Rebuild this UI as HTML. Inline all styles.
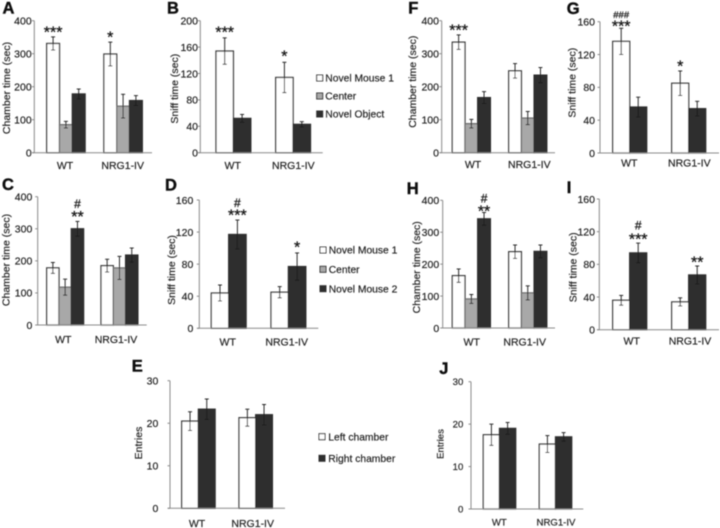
<!DOCTYPE html>
<html>
<head>
<meta charset="utf-8">
<title>Chamber and sniff time panels</title>
<style>
html,body{margin:0;padding:0;background:#fff;width:720px;height:528px;overflow:hidden}
svg{display:block;font-family:"Liberation Sans",Arial,sans-serif}
text{stroke:#222;stroke-width:.18px}
text.letter{stroke:#111;stroke-width:.4px}
text.mark{stroke:#1a1a1a;stroke-width:.3px}
</style>
</head>
<body>
<svg id="figure" xmlns="http://www.w3.org/2000/svg" width="720" height="528" viewBox="0 0 720 528"></svg>
<script>
const categories = ['WT', 'NRG1-IV'];
const threeSeriesA = ['Novel Mouse 1', 'Center', 'Novel Object'];
const threeSeriesC = ['Novel Mouse 1', 'Center', 'Novel Mouse 2'];
const twoSeriesE = ['Left chamber', 'Right chamber'];

const aMeans = [[331, 85, 178], [299, 141, 158]];
const aErrors = [[20, 10, 15], [36, 36, 15]];
const aTicks = [0, 100, 200, 300, 400];

const bMeans = [[154, 52], [114, 43]];
const bErrors = [[20, 6], [23, 4]];
const bTicks = [0, 40, 80, 120, 160, 200];

const cMeans = [[178, 118, 300], [185, 178, 218]];
const cErrors = [[17, 25, 23], [20, 36, 22]];
const cTicks = [0, 100, 200, 300, 400];

const dMeans = [[44, 117], [45, 77]];
const dErrors = [[10, 18], [7, 17]];
const dTicks = [0, 40, 80, 120, 160];

const eMeans = [[20.5, 23.3], [21.3, 22]];
const eErrors = [[2.2, 2.4], [2, 2.4]];
const eTicks = [0, 10, 20, 30];

const fMeans = [[335, 88, 167], [248, 105, 235]];
const fErrors = [[22, 13, 18], [22, 20, 23]];
const fTicks = [0, 100, 200, 300, 400];

const gMeans = [[136, 56], [85, 54]];
const gErrors = [[16, 12], [15, 9]];
const gTicks = [0, 40, 80, 120, 160];

const hMeans = [[164, 91, 342], [239, 110, 240]];
const hErrors = [[21, 14, 20], [21, 22, 20]];
const hTicks = [0, 100, 200, 300, 400];

const iMeans = [[36, 94], [34, 67]];
const iErrors = [[6, 12], [5, 11]];
const iTicks = [0, 40, 80, 120, 160];

const jMeans = [[17.5, 19], [15.3, 17]];
const jErrors = [[2.5, 1.4], [2, 1]];
const jTicks = [0, 10, 20, 30];

const panels = [
  {id:'a', means:aMeans, errors:aErrors, ticks:aTicks, title:'Chamber time (sec)', ax:34.3, xEnd:152, top:20.7, bot:152.7, starts:[46.7,103.9], bw:12.8,
   labelX:2.5, labelY:13.5, tickX:31.7, titleX:6, titleY:88, catX:[65,122.7], catY:169, annots:[[0,0,'***',8],[1,0,'*',8]]},
  {id:'b', means:bMeans, errors:bErrors, ticks:bTicks, title:'Sniff time (sec)', ax:200.3, xEnd:322.7, top:20.7, bot:152.7, starts:[216,275.7], bw:17.4,
   labelX:167, labelY:13.5, tickX:198, titleX:174.3, titleY:88.7, catX:[232.7,293.3], catY:169, annots:[[0,0,'***',9],[1,0,'*',9]]},
  {id:'c', means:cMeans, errors:cErrors, ticks:cTicks, title:'Chamber time (sec)', ax:37.7, xEnd:146.7, top:196.7, bot:325, starts:[46.7,101], bw:12.3,
   labelX:2, labelY:190, tickX:32.3, titleX:5.5, titleY:260, catX:[63.3,116], catY:343, annots:[[0,2,'**',8,'#',9.5]]},
  {id:'d', means:dMeans, errors:dErrors, ticks:dTicks, title:'Sniff time (sec)', ax:199.3, xEnd:318.3, top:200, bot:328.3, starts:[211.3,271], bw:17.4,
   labelX:165, labelY:190.5, tickX:193.3, titleX:171, titleY:270, catX:[227.7,286.7], catY:345.7, annots:[[0,1,'***',8,'#',9],[1,1,'*',9]]},
  {id:'e', means:eMeans, errors:eErrors, ticks:eTicks, title:'Entries', ax:170, xEnd:285, top:380.7, bot:508.3, starts:[181.7,239], bw:16.7,
   labelX:131.7, labelY:371.7, tickX:158.3, titleX:138.3, titleY:443, catX:[197,252.7], catY:527, annots:[]},
  {id:'f', means:fMeans, errors:fErrors, ticks:fTicks, title:'Chamber time (sec)', ax:441.7, xEnd:555, top:20.7, bot:152.7, starts:[452.3,508.7], bw:12.7,
   labelX:408.3, labelY:13.5, tickX:439, titleX:412.3, titleY:81.7, catX:[473,529.3], catY:168, annots:[[0,0,'***',7.7]]},
  {id:'g', means:gMeans, errors:gErrors, ticks:gTicks, title:'Sniff time (sec)', ax:600, xEnd:719, top:21.7, bot:153, starts:[612.7,671.7], bw:17,
   labelX:566.7, labelY:14, tickX:595, titleX:571.7, titleY:82.7, catX:[629.3,689.3], catY:166.7, annots:[[0,0,'***',5,'###',9.3],[1,0,'*',8]]},
  {id:'h', means:hMeans, errors:hErrors, ticks:hTicks, title:'Chamber time (sec)', ax:442.7, xEnd:555, top:200.3, bot:328, starts:[452.3,508.7], bw:12.7,
   labelX:406.7, labelY:194, tickX:439.2, titleX:416.2, titleY:267.3, catX:[471.7,524.7], catY:345.7, annots:[[0,2,'**',4.3,'#',10]]},
  {id:'i', means:iMeans, errors:iErrors, ticks:iTicks, title:'Sniff time (sec)', ax:599.3, xEnd:719, top:199, bot:329.7, starts:[612.7,671.7], bw:17,
   labelX:566.7, labelY:193, tickX:595, titleX:572.7, titleY:267.3, catX:[631.7,690], catY:344.7, annots:[[0,1,'***',7,'#',11],[1,1,'**',6.7]]},
  {id:'j', means:jMeans, errors:jErrors, ticks:jTicks, title:'Entries', ax:471, xEnd:583.3, top:381.7, bot:509, starts:[483.3,539.3], bw:16.2, small:true,
   labelX:439.3, labelY:374, tickX:463.3, titleX:440, titleY:444, catX:[499.3,556], catY:525.5, annots:[]}
];

const legends = [
  {id:'top', names:threeSeriesA, swatchX:316.7, textX:325.3, rows:[78,96,114], fills:['#fff','#a8a8a8','#2e2e2e']},
  {id:'middle', names:threeSeriesC, swatchX:320, textX:328.7, rows:[250,269.3,288.7], fills:['#fff','#a8a8a8','#2e2e2e']},
  {id:'bottom', names:twoSeriesE, swatchX:319, textX:328.3, rows:[436.7,458.3], fills:['#fff','#2e2e2e']}
];

const NS = 'http://www.w3.org/2000/svg';
const root = document.getElementById('figure');
const content = document.createElementNS(NS, 'g');
content.setAttribute('filter', 'url(#soften)');


const defs = document.createElementNS(NS, 'defs');
defs.innerHTML = '<filter id="soften" x="0" y="0" width="720" height="528" filterUnits="userSpaceOnUse" primitiveUnits="userSpaceOnUse"><feGaussianBlur stdDeviation="0.42"/></filter>';
root.appendChild(defs);
root.appendChild(content);

function make(tag, attrs, parent, txt) {
  const el = document.createElementNS(NS, tag);
  for (const k in attrs) el.setAttribute(k, attrs[k]);
  if (txt !== undefined) el.textContent = txt;
  parent.appendChild(el);
  return el;
}

function barFill(nSeries, s) {
  if (nSeries === 3) return ['#fff', '#a8a8a8', '#2e2e2e'][s];
  return ['#fff', '#2e2e2e'][s];
}
function barStroke(nSeries, s) {
  if (nSeries === 3) return ['#3c3c3c', '#707070', '#2e2e2e'][s];
  return ['#3c3c3c', '#2e2e2e'][s];
}

panels.forEach(function (p) {
  const max = p.ticks[p.ticks.length - 1];
  const yScale = function (v) { return p.bot - v / max * (p.bot - p.top); };
  const barLeft = function (g, s) { return p.starts[g] + s * p.bw; };
  const fs = p.small ? 9.6 : 10.5;

  const g = make('g', {}, content);
  
  

  const letter = make('text', {x:p.labelX, y:p.labelY, 'font-size':16.5, 'font-weight':'bold', fill:'#111', class:'letter'}, g, p.id.toUpperCase());
  
  

  p.means.forEach(function (row, gi) {
    row.forEach(function (v, si) {
      const x = barLeft(gi, si);
      const bar = make('rect', {x:x, y:yScale(v), width:p.bw, height:p.bot - yScale(v), fill:barFill(row.length, si), stroke:barStroke(row.length, si), 'stroke-width':1.3}, g);
      
      
    });
  });

  p.means.forEach(function (row, gi) {
    row.forEach(function (v, si) {
      const cx = barLeft(gi, si) + p.bw / 2;
      const e = p.errors[gi][si];
      const eg = make('g', {stroke:'#1a1a1a', 'stroke-width':0.9}, g);
      
      
      make('line', {x1:cx, x2:cx, y1:yScale(v + e), y2:yScale(v - e)}, eg);
      make('line', {x1:cx - 2, x2:cx + 2, y1:yScale(v + e), y2:yScale(v + e)}, eg);
      make('line', {x1:cx - 2, x2:cx + 2, y1:yScale(v - e), y2:yScale(v - e)}, eg);
    });
  });

  const yAxis = make('line', {x1:p.ax, x2:p.ax, y1:p.top, y2:p.bot, stroke:'#8a8a8a', 'stroke-width':1}, g);
  
  
  const xAxis = make('line', {x1:p.ax - 2, x2:p.xEnd, y1:p.bot, y2:p.bot, stroke:'#8a8a8a', 'stroke-width':1}, g);
  
  

  p.ticks.forEach(function (t) {
    const tickMark = make('line', {x1:p.ax - 2.5, x2:p.ax, y1:yScale(t), y2:yScale(t), stroke:'#8a8a8a', 'stroke-width':1}, g);
    
    
    const tl = make('text', {x:p.tickX, y:yScale(t) + fs * 0.36, 'font-size':fs, 'text-anchor':'end', fill:'#222'}, g, String(t));
    
    
  });

  const yt = make('text', {x:0, y:0, 'font-size':fs, 'text-anchor':'middle', fill:'#222', transform:'translate(' + (p.titleX + fs * 0.36) + ',' + p.titleY + ') rotate(-90)'}, g, p.title);
  
  

  categories.forEach(function (c, i) {
    const cl = make('text', {x:p.catX[i], y:p.catY, 'font-size':fs, 'text-anchor':'middle', fill:'#222'}, g, c);
    
    
  });

  p.annots.forEach(function (a) {
    const gi = a[0], si = a[1];
    const cx = barLeft(gi, si) + p.bw / 2;
    const errTop = yScale(p.means[gi][si] + p.errors[gi][si]);
    const starCenter = errTop - a[3];
    const st = make('text', {x:cx, y:starCenter + 8.4, 'font-size':16, 'text-anchor':'middle', fill:'#1a1a1a', class:'mark'}, g, a[2]);
    
    
    if (a[4]) {
      const hs = make('text', {x:cx, y:starCenter - a[5] + 4.2, 'font-size':a[4].length > 1 ? 9.5 : 12, 'text-anchor':'middle', fill:'#1a1a1a', class:'mark'}, g, a[4]);
      
      
    }
  });
});

legends.forEach(function (l) {
  const g = make('g', {}, content);
  
  
  l.names.forEach(function (n, i) {
    const sw = make('rect', {x:l.swatchX, y:l.rows[i] - 3, width:6, height:6, fill:l.fills[i], stroke:'#333', 'stroke-width':1}, g);
    
    
    const tx = make('text', {x:l.textX, y:l.rows[i] + 3.7, 'font-size':10.3, fill:'#222'}, g, n);
    
    
  });
});
</script>
</body>
</html>
